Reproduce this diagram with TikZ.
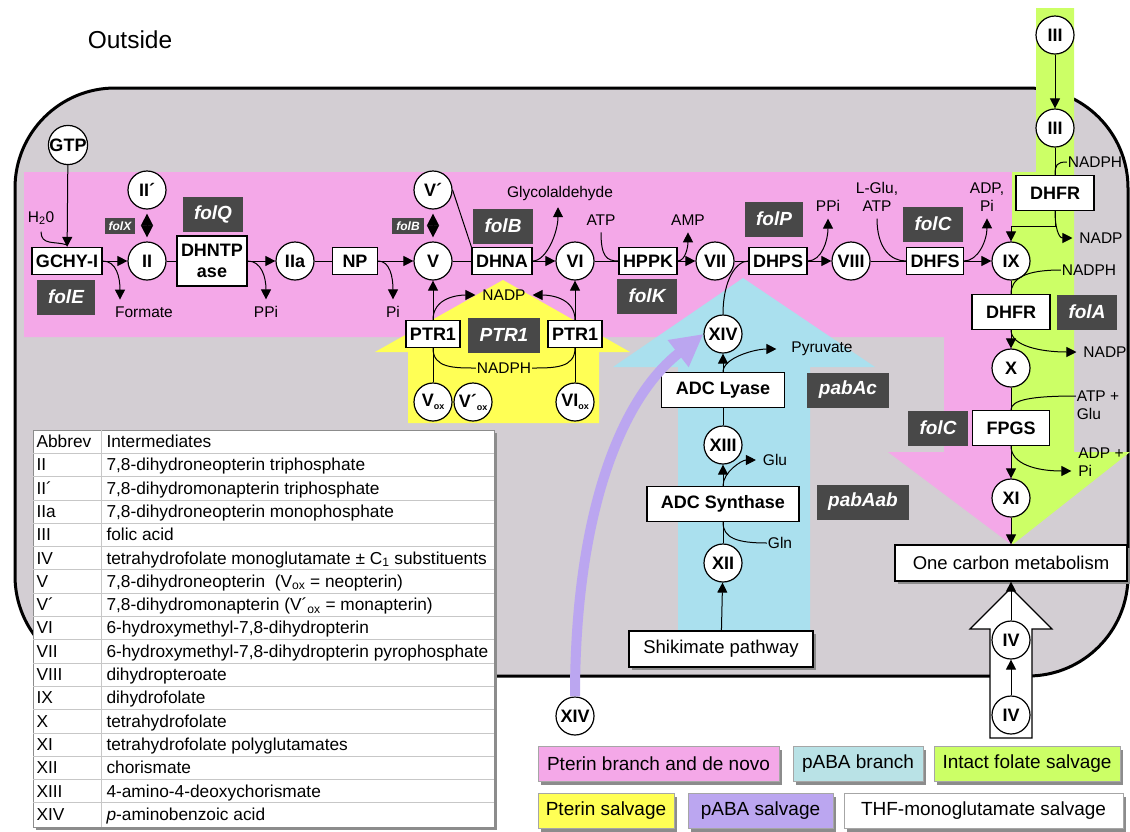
\documentclass[tikz,border=0pt]{standalone}
\usepackage{fontspec}
\setmainfont{Liberation Sans}
\usepackage{tikz}
\usetikzlibrary{arrows.meta}
\usetikzlibrary{shadows}
\usepackage{color}
\definecolor{cellgray}{RGB}{211, 206, 211}
\definecolor{pterinpink}{RGB}{244, 168, 232}
\definecolor{folgreen}{RGB}{204, 255, 102}
\definecolor{pabablue}{RGB}{170, 224, 238}
\definecolor{legblue}{RGB}{185, 226, 230}
\definecolor{pteryellow}{RGB}{255, 255, 85}
\definecolor{pabapurple}{RGB}{187, 166, 240}
\definecolor{genegray}{RGB}{72, 72, 72}
\newcommand{\oxsub}{\raisebox{-3pt}{\fontsize{9}{9}\selectfont ox}}

\tikzset{
    met/.style={circle, draw, line width=1.2pt, fill=white, inner sep=0pt, minimum size=38pt,
        font=\fontsize{18}{18}\selectfont\bfseries},
    enz/.style={draw, line width=1.2pt, fill=white, inner xsep=4pt, inner ysep=0pt, minimum height=27pt,
        font=\fontsize{18}{21}\selectfont\bfseries},
    bigenz/.style={enz, minimum height=35pt, inner xsep=14pt},
    gene/.style={fill=genegray, text=white, inner xsep=11.5pt, inner ysep=0pt, minimum height=35pt,
        font=\fontsize{19}{19}\selectfont\bfseries\itshape},
    smallgene/.style={gene, inner xsep=4pt, minimum height=16pt, font=\fontsize{12}{12}\selectfont\bfseries\itshape},
    lbl/.style={inner sep=1pt, outer sep=6pt, font=\fontsize{15.5}{18}\selectfont},
    lbljoin/.style={lbl, outer sep=0pt},
    rxn/.style={-{Triangle[length=10pt,width=10pt]}},
    dia/.style={{Triangle[length=12pt,width=12pt]}-{Triangle[length=12pt,width=12pt]}, shorten <=4pt, shorten >=4pt},
    shadowed/.style={drop shadow={shadow xshift=3pt, shadow yshift=-3pt, fill=black!45, opacity=1}},
    pathbox/.style={draw, line width=1.2pt, fill=white, minimum height=36pt, shadowed,
        font=\fontsize{18.5}{18.5}\selectfont},
    legbox/.style={draw=black!35, line width=0.8pt, minimum height=35pt, inner xsep=2pt, shadowed,
        font=\fontsize{19}{19}\selectfont},
    tabtxt/.style={inner sep=0pt, anchor=base west, font=\fontsize{17.3}{17.3}\selectfont},
}

\begin{document}
\begin{tikzpicture}[x=1pt, y=-1pt, line width=1pt]
    \useasboundingbox (0,0) rectangle (1130,831);
    \node[font=\fontsize{24.5}{24.5}\selectfont] (outside) at (130,40) {Outside};

    % cell and the coloured branches
    \draw[line width=3pt, fill=cellgray, rounded corners=100pt] (15,88) rectangle (1128,676);
    \fill[pterinpink] (24,172) -- (1012,172) -- (1012,545) -- (888,452) -- (944,452) -- (944,337) -- (24,337) -- cycle;
    \fill[folgreen]   (1036,8) -- (1074,8) -- (1074,452) -- (1130,452) -- (1012,545) -- (1012,172) -- (1036,172) -- cycle;
    \fill[pteryellow] (408,423) -- (408,352) -- (375,352) -- (503,280) -- (630,352) -- (599,352) -- (599,423) -- cycle;
    \fill[pabablue]   (678,640) -- (678,367) -- (613,367) -- (743,278) -- (875,367) -- (810,367) -- (810,640) -- cycle;
    \filldraw[fill=white, line width=1.2pt] (990,738) -- (990,629) -- (970,629) -- (1011,588) -- (1052,629) -- (1032,629) -- (1032,738) -- cycle;

    % intermediates
    \node[met] (gtp)   at (68,145)   {GTP};
    \node[met] (mIIp)  at (147,190)  {II´};
    \node[met] (mII)   at (147,261)  {II};
    \node[met] (mIIa)  at (295,261)  {IIa};
    \node[met] (mVp)   at (433,190)  {V´};
    \node[met] (mV)    at (433,261)  {V};
    \node[met] (mVI)   at (575,261)  {VI};
    \node[met] (mVII)  at (715,261)  {VII};
    \node[met] (mVIII) at (851,261)  {VIII};
    \node[met] (mIX)   at (1011,261) {IX};
    \node[met] (mX)    at (1011,368) {X};
    \node[met] (mXI)   at (1011,498) {XI};
    \node[met] (mIIIo) at (1055,35)  {III};
    \node[met] (mIII)  at (1055,128) {III};
    \node[met] (mXIV)  at (723,334)  {XIV};
    \node[met] (mXIII) at (723,445)  {XIII};
    \node[met] (mXII)  at (723,563)  {XII};
    \node[met] (mXIVo) at (575,716)  {XIV};
    \node[met] (mIV)   at (1011,640) {IV};
    \node[met] (mIVo)  at (1011,715) {IV};
    \node[met] (mVox)  at (433,402)  {V\oxsub};
    \node[met] (mVpox) at (473,402)  {V´\oxsub};
    \node[met] (mVIox) at (575,402)  {VI\oxsub};

    % enzymes
    \node[enz] (gchy)  at (67,261)   {GCHY-I};
    \node[enz, align=center, minimum height=50pt] (dhntp) at (212,261) {DHNTP\\ase};
    \node[enz, minimum width=45pt] (np) at (355,261) {NP};
    \node[enz] (dhna)  at (502,261)  {DHNA};
    \node[enz] (hppk)  at (648,261)  {HPPK};
    \node[enz] (dhps)  at (778,261)  {DHPS};
    \node[enz] (dhfs)  at (935,261)  {DHFS};
    \node[enz] (ptrl)  at (433,334)  {PTR1};
    \node[enz] (ptrr)  at (575,334)  {PTR1};
    \node[bigenz] (dhfrtop) at (1055,193) {DHFR};
    \node[bigenz] (dhfr)    at (1011,312) {DHFR};
    \node[bigenz] (fpgs)    at (1011,428) {FPGS};
    \node[bigenz] (adcl)    at (723,390)  {ADC Lyase};
    \node[bigenz] (adcs)    at (723,504)  {ADC Synthase};
    \node[pathbox, minimum width=232pt] (ocm)  at (1011,563) {One carbon metabolism};
    \node[pathbox, minimum width=184pt] (shik) at (721,649)  {Shikimate pathway};

    % genes
    \node[gene] (folE)   at (66,297)   {folE};
    \node[gene] (folQ)   at (213,214)  {folQ};
    \node[smallgene] (folX)  at (120,226) {folX};
    \node[smallgene] (folBs) at (408,226) {folB};
    \node[gene] (folB)   at (503,226)  {folB};
    \node[gene] (folK)   at (647,296)  {folK};
    \node[gene] (ptrg)   at (504,335)  {PTR1};
    \node[gene] (folP)   at (774,219)  {folP};
    \node[gene] (folCa)  at (933,224)  {folC};
    \node[gene] (folA)   at (1087,312) {folA};
    \node[gene] (pabAc)  at (848,390)  {pabAc};
    \node[gene] (folCb)  at (938,428)  {folC};
    \node[gene] (pabAab) at (863,502)  {pabAab};

    % cofactors and side products
    \node[lbl] (h2o)     at (41,218)   {H\textsubscript{2}0};
    \node[lbl] (formate) at (144,312)  {Formate};
    \node[lbl] (ppia)    at (266,312)  {PPi};
    \node[lbl] (pi)      at (393,312)  {Pi};
    \node[lbl] (glyco)   at (560,193)  {Glycolaldehyde};
    \node[lbl] (atp)     at (601,220)  {ATP};
    \node[lbl] (amp)     at (688,220)  {AMP};
    \node[lbl] (ppib)    at (828,206)  {PPi};
    \node[lbl, align=center] (lglu) at (877,197) {L-Glu,\\ATP};
    \node[lbl, align=center] (adpi) at (987,197) {ADP,\\Pi};
    \node[lbljoin] (nadpha) at (1095,162) {NADPH};
    \node[lbl] (nadpa)      at (1101,238) {NADP};
    \node[lbljoin] (nadphb) at (1089,270) {NADPH};
    \node[lbl] (nadpb)      at (1105,352) {NADP};
    \node[lbljoin, align=left] (atpglu) at (1098,405) {ATP +\\Glu};
    \node[lbl, align=left] (adppi)      at (1101,462) {ADP +\\Pi};
    \node[lbl] (pyr)     at (822,349)  {Pyruvate};
    \node[lbl] (glu)     at (775,460)  {Glu};
    \node[lbljoin] (gln) at (780,543)  {Gln};
    \node[lbl] (nadpc)   at (504,295)  {NADP};
    \node[lbljoin] (nadphc) at (504,368) {NADPH};

    % pterin branch
    \draw[rxn] (gtp) -- (gchy);
    \draw (h2o.south) .. controls +(0,14) and +(-12,-4) .. ([yshift=2pt]gchy.north);
    \draw[rxn] (gchy) -- (mII);
    \draw[rxn] (gchy.east) .. controls +(14,0) and +(0,-22) .. ([xshift=-24pt]formate.north);
    \draw[dia] (mIIp) -- (mII);
    \draw (mII) -- (dhntp);
    \draw[rxn] (dhntp) -- (mIIa);
    \draw[rxn] (dhntp.east) .. controls +(14,0) and +(0,-22) .. (ppia.north);
    \draw (mIIa) -- (np);
    \draw[rxn] (np) -- (mV);
    \draw[rxn] (np.east) .. controls +(12,0) and +(0,-22) .. (pi.north);
    \draw[dia] (mVp) -- (mV);
    \draw (mV) -- (dhna);
    \draw (mVp.east) -- (dhna.north west);
    \draw[rxn] (dhna) -- (mVI);
    \draw[rxn] (dhna.east) .. controls +(14,0) and +(0,25) .. ([xshift=-2pt]glyco.south);
    \draw (mVI) -- (hppk);
    \draw (atp.south) .. controls +(0,24) and +(-12,0) .. (hppk.west);
    \draw[rxn] (hppk) -- (mVII);
    \draw[rxn] (hppk.east) .. controls +(8,0) and +(0,14) .. (amp.south);
    \draw (mVII) -- (dhps);
    \draw (mXIV.north) .. controls +(0,-35) and +(-12,0) .. (dhps.west);
    \draw[rxn] (dhps) -- (mVIII);
    \draw[rxn] (dhps.east) .. controls +(14,0) and +(0,22) .. (ppib.south);
    \draw (mVIII) -- (dhfs);
    \draw (lglu.south) .. controls +(0,30) and +(-15,0) .. (dhfs.west);
    \draw[rxn] (dhfs) -- (mIX);
    \draw[rxn] (dhfs.east) .. controls +(14,0) and +(0,22) .. (adpi.south);

    % folate salvage and polyglutamylation
    \draw[rxn] (mIIIo) -- (mIII);
    \draw (mIII) -- (dhfrtop);
    \draw (nadpha.west) .. controls +(-10,0) and +(0,-10) .. (dhfrtop.north);
    \draw[rxn] (dhfrtop.south) -- ++(0,15) -| (mIX.north);
    \draw[rxn] (dhfrtop.south) .. controls +(0,16) and +(-14,0) .. (nadpa.west);
    \draw (mIX) -- (dhfr);
    \draw (nadphb.west) .. controls +(-35,0) and +(0,-16) .. (dhfr.north);
    \draw[rxn] (dhfr) -- (mX);
    \draw[rxn] (dhfr.south) .. controls +(0,16) and +(-35,0) .. (nadpb.west);
    \draw (mX) -- (fpgs);
    \draw ([yshift=9pt]atpglu.west) .. controls +(-45,0) and +(0,-10) .. (fpgs.north);
    \draw[rxn] (fpgs) -- (mXI);
    \draw[rxn] (fpgs.south) .. controls +(0,18) and +(-35,0) .. ([yshift=-9pt]adppi.west);
    \draw[rxn] (mXI) -- (ocm);
    \draw[rxn] (mIVo) -- (mIV);
    \draw[rxn] (mIV) -- (ocm);

    % pABA branch
    \draw[rxn] (shik) -- (mXII);
    \draw (mXII) -- (adcs);
    \draw (gln.west) .. controls +(-30,0) and +(0,16) .. (adcs.south);
    \draw[rxn] (adcs) -- (mXIII);
    \draw[rxn] (adcs.north) .. controls +(0,-14) and +(-14,0) .. (glu.west);
    \draw (mXIII) -- (adcl);
    \draw[rxn] (adcl) -- (mXIV);
    \draw[rxn] (adcl.north) .. controls +(0,-14) and +(-22,0) .. ([xshift=-8pt]pyr.west);

    % pterin salvage
    \draw (mVox) -- (ptrl);
    \draw[rxn] (ptrl) -- (mV);
    \draw (mVIox) -- (ptrr);
    \draw[rxn] (ptrr) -- (mVI);
    \draw[rxn] (ptrl.north) .. controls +(0,-22) and +(-18,0) .. (nadpc.west);
    \draw[rxn] (ptrr.north) .. controls +(0,-22) and +(18,0) .. (nadpc.east);
    \draw (ptrl.south) .. controls +(0,20) and +(-22,0) .. (nadphc.west);
    \draw (nadphc.east) .. controls +(22,0) and +(0,20) .. (ptrr.south);

    % pABA salvage
    \draw[pabapurple, line width=10pt, -{Triangle[length=32pt,width=32pt]}]
        (mXIVo.north) .. controls +(0,-177) and +(-85,66) .. (mXIV.west);

    % table of intermediates
    \node[draw=black!45, fill=white, line width=0.8pt, inner sep=0pt, minimum width=461pt, minimum height=397pt,
        anchor=north west, shadowed] (tab) at (33,430) {};
    \draw[black!22, line width=0.8pt] (101,430) -- (101,827);
    \foreach \i in {1,...,16}
        \draw[black!22, line width=0.8pt] (33,430+23.3*\i) -- (494,430+23.3*\i);
    \foreach \ab/\nm [count=\i from 0] in {Abbrev/Intermediates,
            II/{7,8-dihydroneopterin triphosphate},
            II´/{7,8-dihydromonapterin triphosphate},
            IIa/{7,8-dihydroneopterin monophosphate},
            III/folic acid,
            IV/tetrahydrofolate monoglutamate ± C\textsubscript{1} substituents,
            V/{7,8-dihydroneopterin\ \ (V\textsubscript{ox} = neopterin)},
            V´/{7,8-dihydromonapterin (V´\textsubscript{ox} = monapterin)},
            VI/{6-hydroxymethyl-7,8-dihydropterin},
            VII/{6-hydroxymethyl-7,8-dihydropterin pyrophosphate},
            VIII/dihydropteroate,
            IX/dihydrofolate,
            X/tetrahydrofolate,
            XI/tetrahydrofolate polyglutamates,
            XII/chorismate,
            XIII/4-amino-4-deoxychorismate,
            XIV/\textit{p}-aminobenzoic acid} {
        \node[tabtxt] (ab\i) at (36,447.5+23.3*\i) {\ab};
        \node[tabtxt] (nm\i) at (106,447.5+23.3*\i) {\nm};
    }

    % legend
    \node[legbox, fill=pterinpink, minimum width=241pt] (legpink)   at (658.5,764) {Pterin branch and de novo};
    \node[legbox, fill=legblue,    minimum width=130pt] (legblue)   at (858,764)   {pABA branch};
    \node[legbox, fill=folgreen,   minimum width=186pt] (leggreen)  at (1027,764)  {Intact folate salvage};
    \node[legbox, fill=pteryellow, minimum width=136pt] (legyellow) at (606,811)   {Pterin salvage};
    \node[legbox, fill=pabapurple, minimum width=145pt] (legpurple) at (760.5,811) {pABA salvage};
    \node[legbox, fill=white,      minimum width=279pt] (legwhite)  at (983.5,811) {THF-monoglutamate salvage};
\end{tikzpicture}
\end{document}
